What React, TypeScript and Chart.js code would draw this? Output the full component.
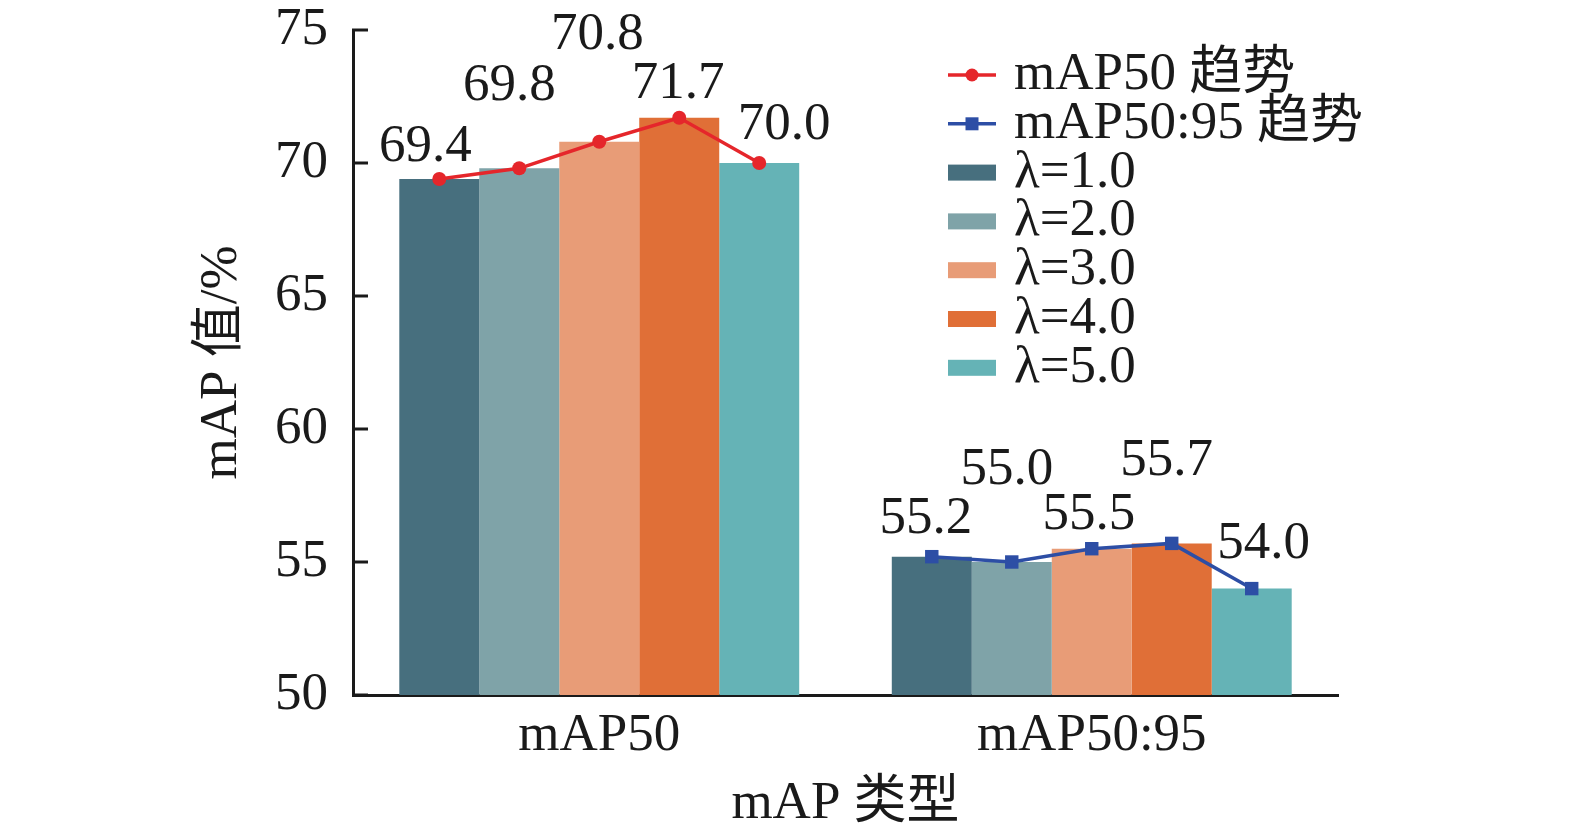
import React, { useEffect, useRef } from "react";
import { Chart, registerables } from "chart.js";

Chart.register(...registerables);

// ---------------- data ----------------
const categories = ["mAP50", "mAP50:95"];
const seriesLabels = ["λ=1.0", "λ=2.0", "λ=3.0", "λ=4.0", "λ=5.0"];
const lambda1 = [69.4, 55.2];
const lambda2 = [69.8, 55.0];
const lambda3 = [70.8, 55.5];
const lambda4 = [71.7, 55.7];
const lambda5 = [70.0, 54.0];
const seriesValues = [lambda1, lambda2, lambda3, lambda4, lambda5];
const trendLabels = ["mAP50 趋势", "mAP50:95 趋势"];
const yMin = 50;
const yMax = 75;
const yStep = 5;
const xTitle = "mAP 类型";
const yTitle = "mAP 值/%";

// ---------------- styles ----------------
const FONT = "'Liberation Serif', 'Noto Sans CJK SC', serif";
const FS = 53;
const TEXT = "#1a1a1a";
const barColors = ["#476f7e", "#7fa3a8", "#e89c77", "#e06f37", "#65b3b6"];
const trendColors = ["#e5262b", "#2d4ea5"];
const trendPointStyles = ["circle", "rect"];
const trendPointRadius = [7, 9.5];
const CATEGORY_PCT = 0.812;
// label offsets (px) relative to each trend point, per category
const labelOffsets = [
  [[-14, -32], [-10, -82], [-2, -107], [-1, -34], [25, -38]],
  [[-6, -38], [-5, -92], [-3, -34], [-5, -82], [12, -45]],
];

const barStep = CATEGORY_PCT / seriesValues.length;

const valueLabelPlugin = {
  id: "valueLabels",
  afterDatasetsDraw(chart: any) {
    const ctx = chart.ctx;
    ctx.save();
    ctx.font = `${FS}px ${FONT}`;
    ctx.fillStyle = TEXT;
    ctx.textAlign = "center";
    ctx.textBaseline = "middle";
    chart.data.datasets.forEach((ds: any, i: number) => {
      if (ds.type !== "line") return;
      const meta = chart.getDatasetMeta(i);
      meta.data.forEach((pt: any, j: number) => {
        const off = ds.labelOffsets[j];
        ctx.fillText(ds.data[j].y.toFixed(1), pt.x + off[0], pt.y + off[1]);
      });
    });
    ctx.restore();
  },
};

const inwardTicksPlugin = {
  id: "inwardTicks",
  afterDraw(chart: any) {
    const ctx = chart.ctx;
    const y = chart.scales.y;
    const left = chart.chartArea.left;
    ctx.save();
    ctx.strokeStyle = TEXT;
    ctx.lineWidth = 3;
    y.ticks.forEach((t: any) => {
      const py = y.getPixelForValue(t.value);
      ctx.beginPath();
      ctx.moveTo(left - 1, py);
      ctx.lineTo(left + 15, py);
      ctx.stroke();
    });
    ctx.restore();
  },
};

const legendPlugin = {
  id: "customLegend",
  afterDraw(chart: any) {
    const ctx = chart.ctx;
    const area = chart.chartArea;
    const x0 = area.right - 390;
    const y0 = area.top + 45;
    const rowH = 48.8;
    const items: any[] = [];
    chart.data.datasets.forEach((ds: any) => { if (ds.type === "line") items.push(ds); });
    chart.data.datasets.forEach((ds: any) => { if (ds.type !== "line") items.push(ds); });
    ctx.save();
    ctx.font = `${FS}px ${FONT}`;
    ctx.textAlign = "left";
    ctx.textBaseline = "middle";
    items.forEach((ds, k) => {
      const cy = y0 + k * rowH;
      if (ds.type === "line") {
        ctx.strokeStyle = ds.borderColor;
        ctx.lineWidth = 3.5;
        ctx.beginPath();
        ctx.moveTo(x0, cy);
        ctx.lineTo(x0 + 48, cy);
        ctx.stroke();
        ctx.fillStyle = ds.backgroundColor;
        if (ds.pointStyle === "rect") {
          ctx.fillRect(x0 + 24 - 6.5, cy - 6.5, 13, 13);
        } else {
          ctx.beginPath();
          ctx.arc(x0 + 24, cy, 6.5, 0, Math.PI * 2);
          ctx.fill();
        }
      } else {
        ctx.fillStyle = ds.backgroundColor;
        ctx.fillRect(x0, cy - 8, 48, 16);
      }
      ctx.fillStyle = TEXT;
      ctx.fillText(ds.label, x0 + 66, cy);
    });
    ctx.restore();
  },
};

export default function App() {
  const canvasRef = useRef<HTMLCanvasElement | null>(null);

  useEffect(() => {
    document.body.style.margin = "0";
    const canvas = canvasRef.current;
    if (!canvas) return;

    const barDatasets = seriesValues.map((vals, j) => ({
      type: "bar",
      label: seriesLabels[j],
      data: vals.map((v, c) => ({ x: c, y: v })),
      backgroundColor: barColors[j],
      borderWidth: 0,
      barPercentage: 1,
      categoryPercentage: CATEGORY_PCT,
      xAxisID: "x",
      yAxisID: "y",
      order: 2,
    }));

    const lineDatasets = categories.map((_, c) => ({
      type: "line",
      label: trendLabels[c],
      data: seriesValues.map((vals, j) => ({ x: c + (j - (seriesValues.length - 1) / 2) * barStep, y: vals[c] })),
      borderColor: trendColors[c],
      backgroundColor: trendColors[c],
      borderWidth: 3.5,
      pointStyle: trendPointStyles[c],
      pointRadius: trendPointRadius[c],
      pointBorderWidth: 0,
      tension: 0,
      fill: false,
      xAxisID: "x",
      yAxisID: "y",
      order: 0,
      labelOffsets: labelOffsets[c],
    }));

    const font = { family: FONT, size: FS };

    const chart = new Chart(canvas, {
      type: "bar",
      data: {
        datasets: [...lineDatasets, ...barDatasets] as any,
      },
      options: {
        animation: false,
        responsive: false,
        devicePixelRatio: 1,
        layout: { padding: { top: 30, right: 237, left: 0, bottom: 0 } },
        plugins: {
          legend: { display: false },
          tooltip: { enabled: false },
        },
        scales: {
          x: {
            type: "linear",
            min: -0.5,
            max: 1.5,
            offset: false,
            grid: { display: false, drawTicks: false, offset: false },
            border: { display: true, width: 3, color: TEXT },
            ticks: {
              font,
              color: TEXT,
              padding: 9,
              autoSkip: false,
              maxRotation: 0,
              callback: (v: any) => categories[Math.round(v)] ?? "",
            },
            afterBuildTicks: (s: any) => { s.ticks = categories.map((_, i) => ({ value: i })); },
            title: { display: true, text: xTitle, font, color: TEXT, padding: { top: 0, bottom: 4 } },
            afterFit: (s: any) => {
              s.height = 145;
              s.paddingLeft = 0; s.paddingRight = 0; s.paddingTop = 0; s.paddingBottom = 0;
            },
          },
          y: {
            type: "linear",
            min: yMin,
            max: yMax,
            grid: { display: false, drawTicks: false },
            border: { display: true, width: 3, color: TEXT },
            ticks: { stepSize: yStep, font, color: TEXT, padding: 25 },
            title: { display: true, text: yTitle, font, color: TEXT, padding: { top: 190, bottom: 0 } },
            afterFit: (s: any) => {
              s.width = 353;
              s.paddingLeft = 0; s.paddingRight = 0; s.paddingTop = 0; s.paddingBottom = 0;
            },
          },
        },
      } as any,
      plugins: [valueLabelPlugin, inwardTicksPlugin, legendPlugin],
    });

    return () => chart.destroy();
  }, []);

  return (
    <div style={{ width: 1575, height: 840, background: "#fff" }}>
      <canvas ref={canvasRef} width={1575} height={840} />
    </div>
  );
}
